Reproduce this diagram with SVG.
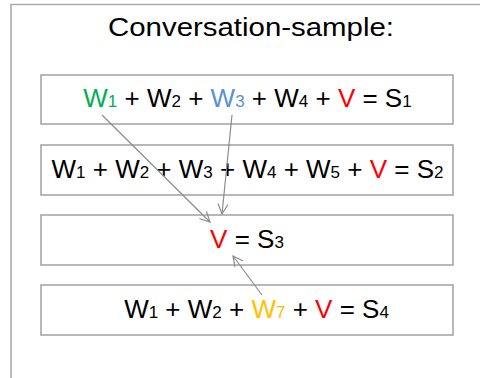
<svg xmlns="http://www.w3.org/2000/svg" width="480" height="378" viewBox="0 0 480 378">
<style>
.frame{fill:none;stroke:#ababab;stroke-width:1.6}
.box{fill:#fff;stroke:#9a9a9a;stroke-width:1.4}
.t{font-family:"Liberation Sans",Arial,sans-serif;font-size:26px;fill:#000;text-anchor:middle}
.title{font-family:"Liberation Sans",Arial,sans-serif;font-size:25px;fill:#000;text-anchor:middle}
.sub{font-size:17px}
.g{fill:#00b050}
.b{fill:#5b8fd8}
.y{fill:#ffc000}
.r{fill:#ff0000}
.conn{stroke:#8c8c8c;stroke-width:1.2;fill:none;marker-end:url(#ah)}
</style>
<defs>
<marker id="ah" viewBox="0 0 12 12" refX="11" refY="6" markerWidth="12" markerHeight="12" markerUnits="userSpaceOnUse" orient="auto">
<polyline points="1,1 11,6 1,11" fill="none" stroke="#8c8c8c" stroke-width="1.2"/>
</marker>
</defs>
<rect width="480" height="378" fill="#fff"/>
<path class="frame" d="M11,378 V4.5 H480"/>
<text class="title" x="251" y="36" textLength="286" lengthAdjust="spacingAndGlyphs">Conversation-sample:</text>
<g id="s1">
<rect class="box" x="41" y="75" width="412" height="49"/>
<text class="t" x="247.5" y="107"><tspan class="g">W</tspan><tspan class="g sub">1</tspan> + W<tspan class="sub">2</tspan> + <tspan class="b">W</tspan><tspan class="b sub">3</tspan> + W<tspan class="sub">4</tspan> + <tspan class="r">V</tspan> = S<tspan class="sub">1</tspan></text>
</g>
<g id="s2">
<rect class="box" x="41" y="145" width="412" height="50"/>
<text class="t" x="247.5" y="178">W<tspan class="sub">1</tspan> + W<tspan class="sub">2</tspan> + W<tspan class="sub">3</tspan> + W<tspan class="sub">4</tspan> + W<tspan class="sub">5</tspan> + <tspan class="r">V</tspan> = S<tspan class="sub">2</tspan></text>
</g>
<g id="s3">
<rect class="box" x="41" y="215" width="412" height="50"/>
<text class="t" x="247" y="248"><tspan class="r">V</tspan> = S<tspan class="sub">3</tspan></text>
</g>
<g id="s4">
<rect class="box" x="41" y="285" width="412" height="50"/>
<text class="t" x="256.5" y="318">W<tspan class="sub">1</tspan> + W<tspan class="sub">2</tspan> + <tspan class="y">W</tspan><tspan class="y sub">7</tspan> + <tspan class="r">V</tspan> = S<tspan class="sub">4</tspan></text>
</g>
<g id="connectors">
<line class="conn" x1="102" y1="115" x2="210" y2="222"/>
<line class="conn" x1="232" y1="115" x2="222" y2="214"/>
<line class="conn" x1="262" y1="295" x2="233" y2="256"/>
</g>
</svg>
